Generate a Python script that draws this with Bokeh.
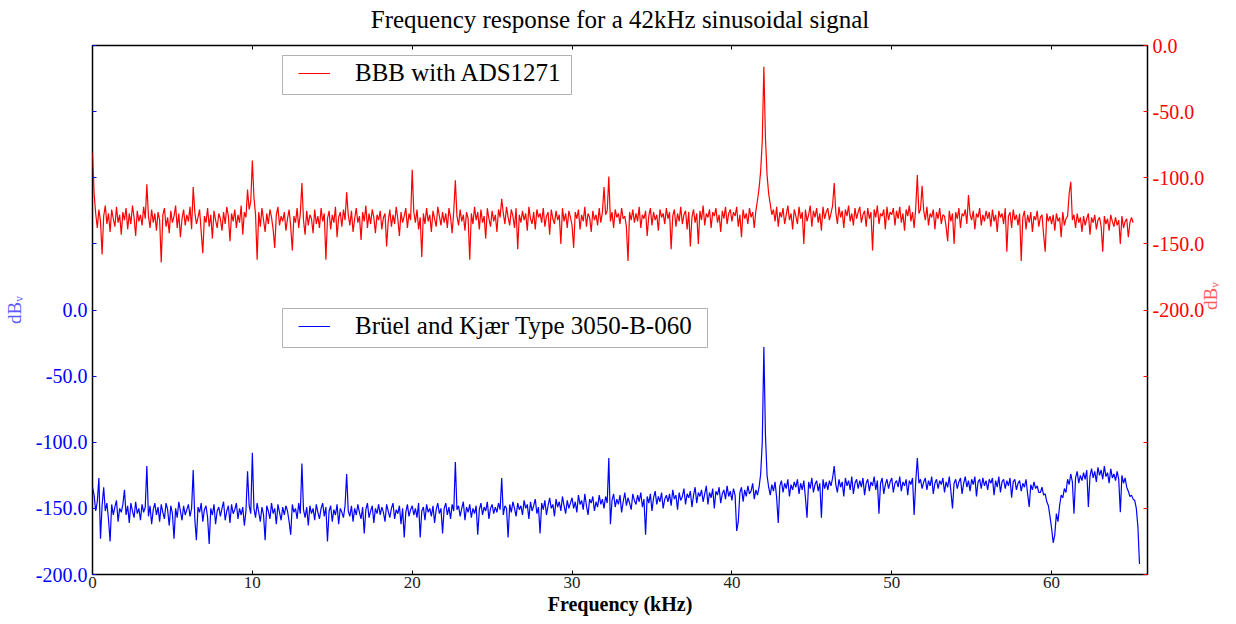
import math
from bokeh.plotting import figure
from bokeh.models import (Range1d, LinearAxis, FixedTicker, PrintfTickFormatter,
                          CustomJSTickFormatter, Legend, LegendItem, BoxAnnotation)
from bokeh.embed import file_html
from bokeh.resources import INLINE

# ---------------- data ----------------
FREQ_STEP_KHZ = 0.1  # spacing of the frequency bins used below

# BBB with ADS1271 (dBV, right axis), bins 0.0 .. 65.1 kHz
red_db = [
    -81, -112, -127, -138, -124, -133, -158, -129, -121, -135, -127, -141, -124, -131, -137, -122, -134, -128, -143, -126,
    -132, -123, -139, -127, -135, -121, -130, -144, -125, -133, -128, -136, -122, -131, -105, -129, -138, -124, -134, -127,
    -140, -126, -132, -164, -128, -123, -137, -130, -142, -125, -134, -129, -121, -138, -127, -145, -131, -124, -136, -128,
    -133, -122, -139, -107, -126, -135, -130, -124, -141, -157, -129, -134, -123, -137, -128, -146, -125, -132, -138, -127,
    -131, -140, -126, -135, -122, -129, -148, -127, -133, -124, -138, -128, -134, -121, -143, -126, -130, -109, -124, -118,
    -87, -115, -128, -162, -126, -137, -123, -132, -141, -127, -135, -124, -130, -139, -153, -128, -122, -136, -129, -133,
    -126, -140, -131, -124, -137, -155, -129, -134, -123, -138, -127, -104, -132, -143, -125, -136, -128, -131, -142, -124,
    -135, -129, -138, -123, -133, -127, -162, -131, -125, -139, -128, -134, -122, -145, -130, -126, -137, -124, -132, -111,
    -128, -136, -125, -141, -131, -123, -134, -129, -147, -126, -133, -121, -138, -127, -135, -124, -130, -142, -128, -132,
    -125, -139, -130, -127, -152, -133, -124, -137, -128, -135, -122, -131, -144, -126, -134, -129, -123, -138, -127, -132,
    -94, -126, -134, -124, -139, -130, -160, -127, -135, -123, -133, -128, -141, -125, -131, -137, -122, -129, -136, -126,
    -134, -127, -138, -123, -130, -142, -125, -102, -129, -136, -124, -133, -128, -140, -126, -131, -162, -127, -135, -122,
    -132, -126, -139, -124, -134, -129, -146, -123, -131, -137, -125, -133, -128, -141, -124, -130, -116, -127, -135, -122,
    -130, -136, -124, -129, -138, -123, -154, -128, -134, -125, -132, -127, -140, -122, -131, -135, -126, -139, -124, -130,
    -127, -134, -123, -137, -129, -126, -143, -124, -131, -135, -125, -132, -128, -150, -123, -133, -127, -138, -125, -130,
    -136, -153, -126, -131, -124, -139, -128, -133, -122, -137, -127, -130, -141, -125, -132, -128, -136, -123, -134, -126,
    -107, -128, -125, -99, -133, -126, -138, -124, -130, -127, -135, -123, -131, -129, -137, -163, -126, -132, -124, -134,
    -127, -133, -122, -138, -128, -131, -125, -144, -129, -123, -136, -126, -132, -128, -140, -124, -130, -127, -135, -123,
    -131, -126, -154, -129, -124, -137, -127, -133, -122, -135, -128, -125, -139, -126, -152, -130, -124, -134, -127, -150,
    -125, -132, -121, -136, -127, -130, -124, -138, -126, -129, -123, -134, -128, -141, -125, -131, -122, -135, -127, -124,
    -133, -126, -129, -122, -137, -128, -145, -124, -131, -127, -135, -123, -130, -126, -138, -125, -117, -108, -95, -72,
    -16, -70, -98, -112, -120, -128, -124, -133, -122, -137, -126, -130, -123, -135, -128, -121, -132, -127, -139, -124,
    -129, -135, -122, -131, -126, -150, -124, -133, -128, -121, -137, -125, -130, -123, -134, -127, -140, -122, -131, -126,
    -123, -132, -127, -121, -104, -126, -135, -122, -130, -125, -138, -124, -129, -121, -133, -127, -136, -123, -131, -126,
    -122, -134, -128, -125, -137, -123, -131, -126, -155, -124, -130, -121, -135, -127, -129, -124, -139, -122, -132, -126,
    -128, -123, -136, -125, -131, -122, -134, -127, -140, -124, -129, -121, -133, -126, -138, -123, -98, -127, -124, -106,
    -125, -132, -122, -136, -127, -130, -124, -139, -126, -131, -123, -135, -128, -129, -137, -148, -125, -133, -127, -150,
    -126, -131, -123, -138, -127, -129, -124, -135, -113, -128, -132, -125, -139, -127, -130, -123, -136, -128, -133, -125,
    -131, -126, -137, -124, -133, -128, -141, -125, -130, -127, -135, -123, -156, -129, -126, -138, -124, -132, -128, -136,
    -127, -163, -130, -125, -139, -128, -134, -126, -141, -129, -132, -125, -137, -130, -128, -143, -156, -127, -133, -129,
    -135, -128, -140, -127, -133, -130, -145, -126, -136, -131, -129, -112, -103, -132, -128, -138, -127, -134, -130, -141,
    -129, -136, -131, -127, -143, -130, -134, -128, -139, -132, -130, -137, -156, -129, -135, -131, -140, -128, -133, -137,
    -130, -136, -132, -150, -129, -138, -133, -131, -145, -134, -130, -134,
]

# Bruel and Kjaer Type 3050-B-060 (dBV, left axis), bins 0.0 .. 65.5 kHz
blue_db = [
    -134, -140, -152, -145, -127, -173, -148, -134, -152, -146, -158, -175, -147, -155, -149, -144, -160, -150, -153, -147,
    -136, -155, -148, -161, -146, -152, -157, -145, -154, -150, -159, -147, -153, -149, -118, -156, -148, -162, -151, -146,
    -155, -149, -160, -147, -153, -158, -146, -151, -163, -148, -154, -173, -150, -157, -145, -152, -159, -148, -155, -151,
    -147, -156, -150, -121, -158, -174, -149, -153, -146, -160, -151, -148, -157, -177, -150, -155, -147, -162, -152, -149,
    -156, -150, -145, -159, -152, -148, -161, -147, -154, -151, -146, -158, -150, -155, -149, -163, -152, -122, -148, -154,
    -108, -150, -157, -146, -153, -160, -149, -155, -174, -148, -152, -158, -146, -154, -150, -162, -147, -153, -159, -149,
    -155, -148, -152, -160, -170, -147, -153, -150, -158, -146, -154, -116, -151, -157, -149, -163, -148, -154, -150, -159,
    -147, -153, -158, -150, -146, -156, -149, -175, -152, -148, -160, -151, -155, -147, -162, -150, -153, -157, -148, -124,
    -152, -156, -148, -160, -150, -155, -147, -153, -158, -149, -169, -151, -146, -157, -152, -148, -161, -150, -154, -147,
    -155, -149, -153, -160, -147, -152, -157, -150, -146, -158, -151, -154, -148, -162, -150, -172, -153, -147, -156, -151,
    -148, -155, -150, -157, -146, -172, -152, -149, -159, -147, -153, -150, -156, -148, -161, -151, -146, -154, -150, -169,
    -150, -146, -155, -149, -158, -147, -152, -115, -151, -148, -156, -150, -145, -159, -149, -153, -147, -157, -150, -154,
    -148, -170, -151, -146, -155, -149, -152, -145, -158, -150, -147, -154, -149, -153, -146, -151, -127, -155, -148, -150,
    -172, -147, -153, -145, -150, -156, -146, -151, -148, -155, -144, -150, -147, -158, -145, -152, -148, -143, -154, -149,
    -169, -146, -151, -144, -155, -148, -142, -150, -147, -156, -143, -149, -145, -152, -141, -148, -154, -144, -150, -146,
    -142, -150, -145, -153, -140, -147, -144, -151, -139, -148, -155, -143, -146, -141, -152, -145, -149, -140, -147, -143,
    -150, -141, -146, -112, -162, -144, -139, -149, -143, -147, -140, -153, -145, -138, -148, -142, -146, -151, -139, -144,
    -147, -140, -145, -138, -149, -143, -170, -141, -146, -139, -152, -142, -137, -147, -141, -145, -138, -150, -143, -140,
    -145, -139, -148, -136, -143, -140, -151, -138, -144, -141, -135, -147, -139, -142, -137, -149, -140, -134, -146, -138,
    -141, -136, -145, -139, -133, -147, -138, -142, -135, -150, -137, -140, -134, -146, -139, -136, -143, -133, -141, -137,
    -144, -135, -140, -167, -160, -138, -134, -145, -136, -141, -133, -139, -137, -131, -143, -136, -140, -134, -124, -100,
    -28, -95, -125, -134, -140, -132, -137, -130, -142, -161, -133, -129, -138, -131, -135, -128, -141, -132, -136, -130,
    -134, -128, -139, -131, -136, -129, -142, -157, -130, -135, -127, -138, -132, -129, -137, -131, -157, -128, -135, -130,
    -136, -129, -133, -127, -118, -132, -138, -128, -134, -130, -141, -127, -133, -129, -136, -126, -139, -131, -128, -135,
    -129, -134, -127, -140, -131, -128, -137, -130, -133, -126, -136, -129, -154, -131, -127, -139, -132, -128, -135, -130,
    -127, -138, -131, -129, -134, -126, -137, -130, -133, -128, -140, -129, -132, -127, -155, -130, -112, -131, -128, -135,
    -130, -127, -136, -129, -133, -126, -139, -131, -128, -135, -129, -132, -127, -138, -130, -134, -126, -137, -150, -131,
    -128, -135, -130, -127, -139, -131, -126, -134, -129, -137, -128, -132, -126, -141, -130, -128, -135, -127, -133, -129,
    -136, -128, -131, -127, -140, -129, -134, -126, -138, -130, -128, -135, -129, -133, -127, -142, -130, -128, -136, -131,
    -129, -137, -131, -134, -128, -139, -149, -132, -136, -130, -135, -133, -138, -138, -134, -140, -139, -145, -148, -156,
    -165, -176, -170, -154, -160, -148, -140, -142, -135, -138, -128, -132, -124, -130, -154, -127, -122, -131, -125, -129,
    -123, -128, -121, -149, -126, -120, -127, -122, -130, -119, -125, -121, -128, -118, -126, -123, -131, -120, -127, -124,
    -129, -122, -128, -153, -125, -131, -127, -134, -137, -141, -140, -143, -144, -150, -164, -192,
]

red_freq = [round(i * FREQ_STEP_KHZ, 1) for i in range(len(red_db))]
blue_freq = [round(i * FREQ_STEP_KHZ, 1) for i in range(len(blue_db))]

x_ticks = [0, 10, 20, 30, 40, 50, 60]
left_ticks = [-200, -150, -100, -50, 0]
left_minor_ticks = [50, 100, 150, 200]
right_ticks = [-200, -150, -100, -50, 0]
right_minor_ticks = [-400, -350, -300, -250]

title_text = "Frequency response for a 42kHz sinusoidal signal"
x_label_text = "Frequency (kHz)"
y_label_text = "dB\u1d65"
red_label = "BBB with ADS1271"
blue_label = "Brüel and Kjær Type 3050-B-060"

SERIF = "Liberation Serif"
BLUE = "#0000ff"
RED = "#ff0000"

# ---------------- figure ----------------
p = figure(width=1236, height=624, output_backend="svg", toolbar_location=None,
           x_range=Range1d(0, 66), y_range=Range1d(-200, 200),
           min_border_left=92, min_border_right=89, min_border_top=45,
           min_border_bottom=50, title=None)
p.extra_y_ranges = {"red": Range1d(-400, 0)}
p.grid.visible = False
p.outline_line_color = "black"
p.outline_line_width = 1.5
p.background_fill_color = "white"
p.border_fill_color = "white"

blue_r = p.line(blue_freq, blue_db, line_color=BLUE, line_width=1.2)
red_r = p.line(red_freq, red_db, line_color=RED, line_width=1.2, y_range_name="red")

# bottom x axis
xa = p.xaxis[0]
xa.ticker = FixedTicker(ticks=x_ticks)
xa.axis_line_color = None
xa.major_tick_in = 4
xa.major_tick_out = 0
xa.major_tick_line_color = "black"
xa.minor_tick_line_color = None
xa.major_label_text_font = SERIF
xa.major_label_text_font_size = "17px"
xa.major_label_text_color = "#222222"
xa.major_label_standoff = 2
xa.axis_label = x_label_text
xa.axis_label_text_font = SERIF
xa.axis_label_text_font_size = "20px"
xa.axis_label_text_font_style = "bold"
xa.axis_label_text_color = "black"
xa.axis_label_standoff = 2

# top x axis: ticks only, carries the chart title as its label
ta = LinearAxis(ticker=FixedTicker(ticks=x_ticks), axis_line_color=None,
                formatter=CustomJSTickFormatter(code="return ''"),
                major_tick_in=4, major_tick_out=0, major_tick_line_color="black",
                minor_tick_line_color=None, major_label_standoff=0,
                axis_label=title_text, axis_label_text_font=SERIF,
                axis_label_text_font_size="25px", axis_label_text_font_style="normal",
                axis_label_text_color="black", axis_label_standoff=13)
p.add_layout(ta, "above")

# left y axis (blue)
ya = p.yaxis[0]
ya.ticker = FixedTicker(ticks=left_ticks, minor_ticks=left_minor_ticks)
ya.formatter = PrintfTickFormatter(format="%.1f")
ya.axis_line_color = None
ya.major_tick_in = 4
ya.major_tick_out = 0
ya.minor_tick_in = 4
ya.minor_tick_out = 0
ya.major_tick_line_color = BLUE
ya.minor_tick_line_color = BLUE
ya.major_label_text_font = SERIF
ya.major_label_text_font_size = "20px"
ya.major_label_text_color = BLUE
ya.major_label_standoff = 5
ya.axis_label = y_label_text
ya.axis_label_text_font = SERIF
ya.axis_label_text_font_size = "19px"
ya.axis_label_text_font_style = "normal"
ya.axis_label_text_color = "#5a5aff"
ya.axis_label_standoff = 8

# right y axis (red)
ra = LinearAxis(y_range_name="red",
                ticker=FixedTicker(ticks=right_ticks, minor_ticks=right_minor_ticks),
                formatter=PrintfTickFormatter(format="%.1f"),
                axis_line_color=None, major_tick_in=4, major_tick_out=0,
                minor_tick_in=4, minor_tick_out=0,
                major_tick_line_color=RED, minor_tick_line_color=RED,
                major_label_text_font=SERIF, major_label_text_font_size="20px",
                major_label_text_color=RED, major_label_standoff=5,
                axis_label=y_label_text, axis_label_text_font=SERIF,
                axis_label_text_font_size="19px", axis_label_text_font_style="normal",
                axis_label_text_color="#ff5a5a", axis_label_standoff=3,
                axis_label_orientation=math.pi / 2)
p.add_layout(ra, "right")

# legend boxes
for (l, r, t, b) in [(190, 479, 519, 480), (190, 615, 266, 227)]:
    p.add_layout(BoxAnnotation(left=l, right=r, top=t, bottom=b,
                               left_units="screen", right_units="screen",
                               top_units="screen", bottom_units="screen",
                               fill_color="white", fill_alpha=1.0,
                               line_color="black", line_width=1))

for label, rend, loc in [(red_label, red_r, (206, 487)), (blue_label, blue_r, (206, 234))]:
    p.add_layout(Legend(items=[LegendItem(label=label, renderers=[rend])],
                        location=loc, border_line_color=None,
                        background_fill_alpha=0.0, padding=0, margin=0, spacing=0,
                        glyph_width=32, glyph_height=28, label_height=28,
                        label_standoff=25, label_text_font=SERIF,
                        label_text_font_size="25px", label_text_color="black"))

open("out.html", "w").write(file_html(p, INLINE))
